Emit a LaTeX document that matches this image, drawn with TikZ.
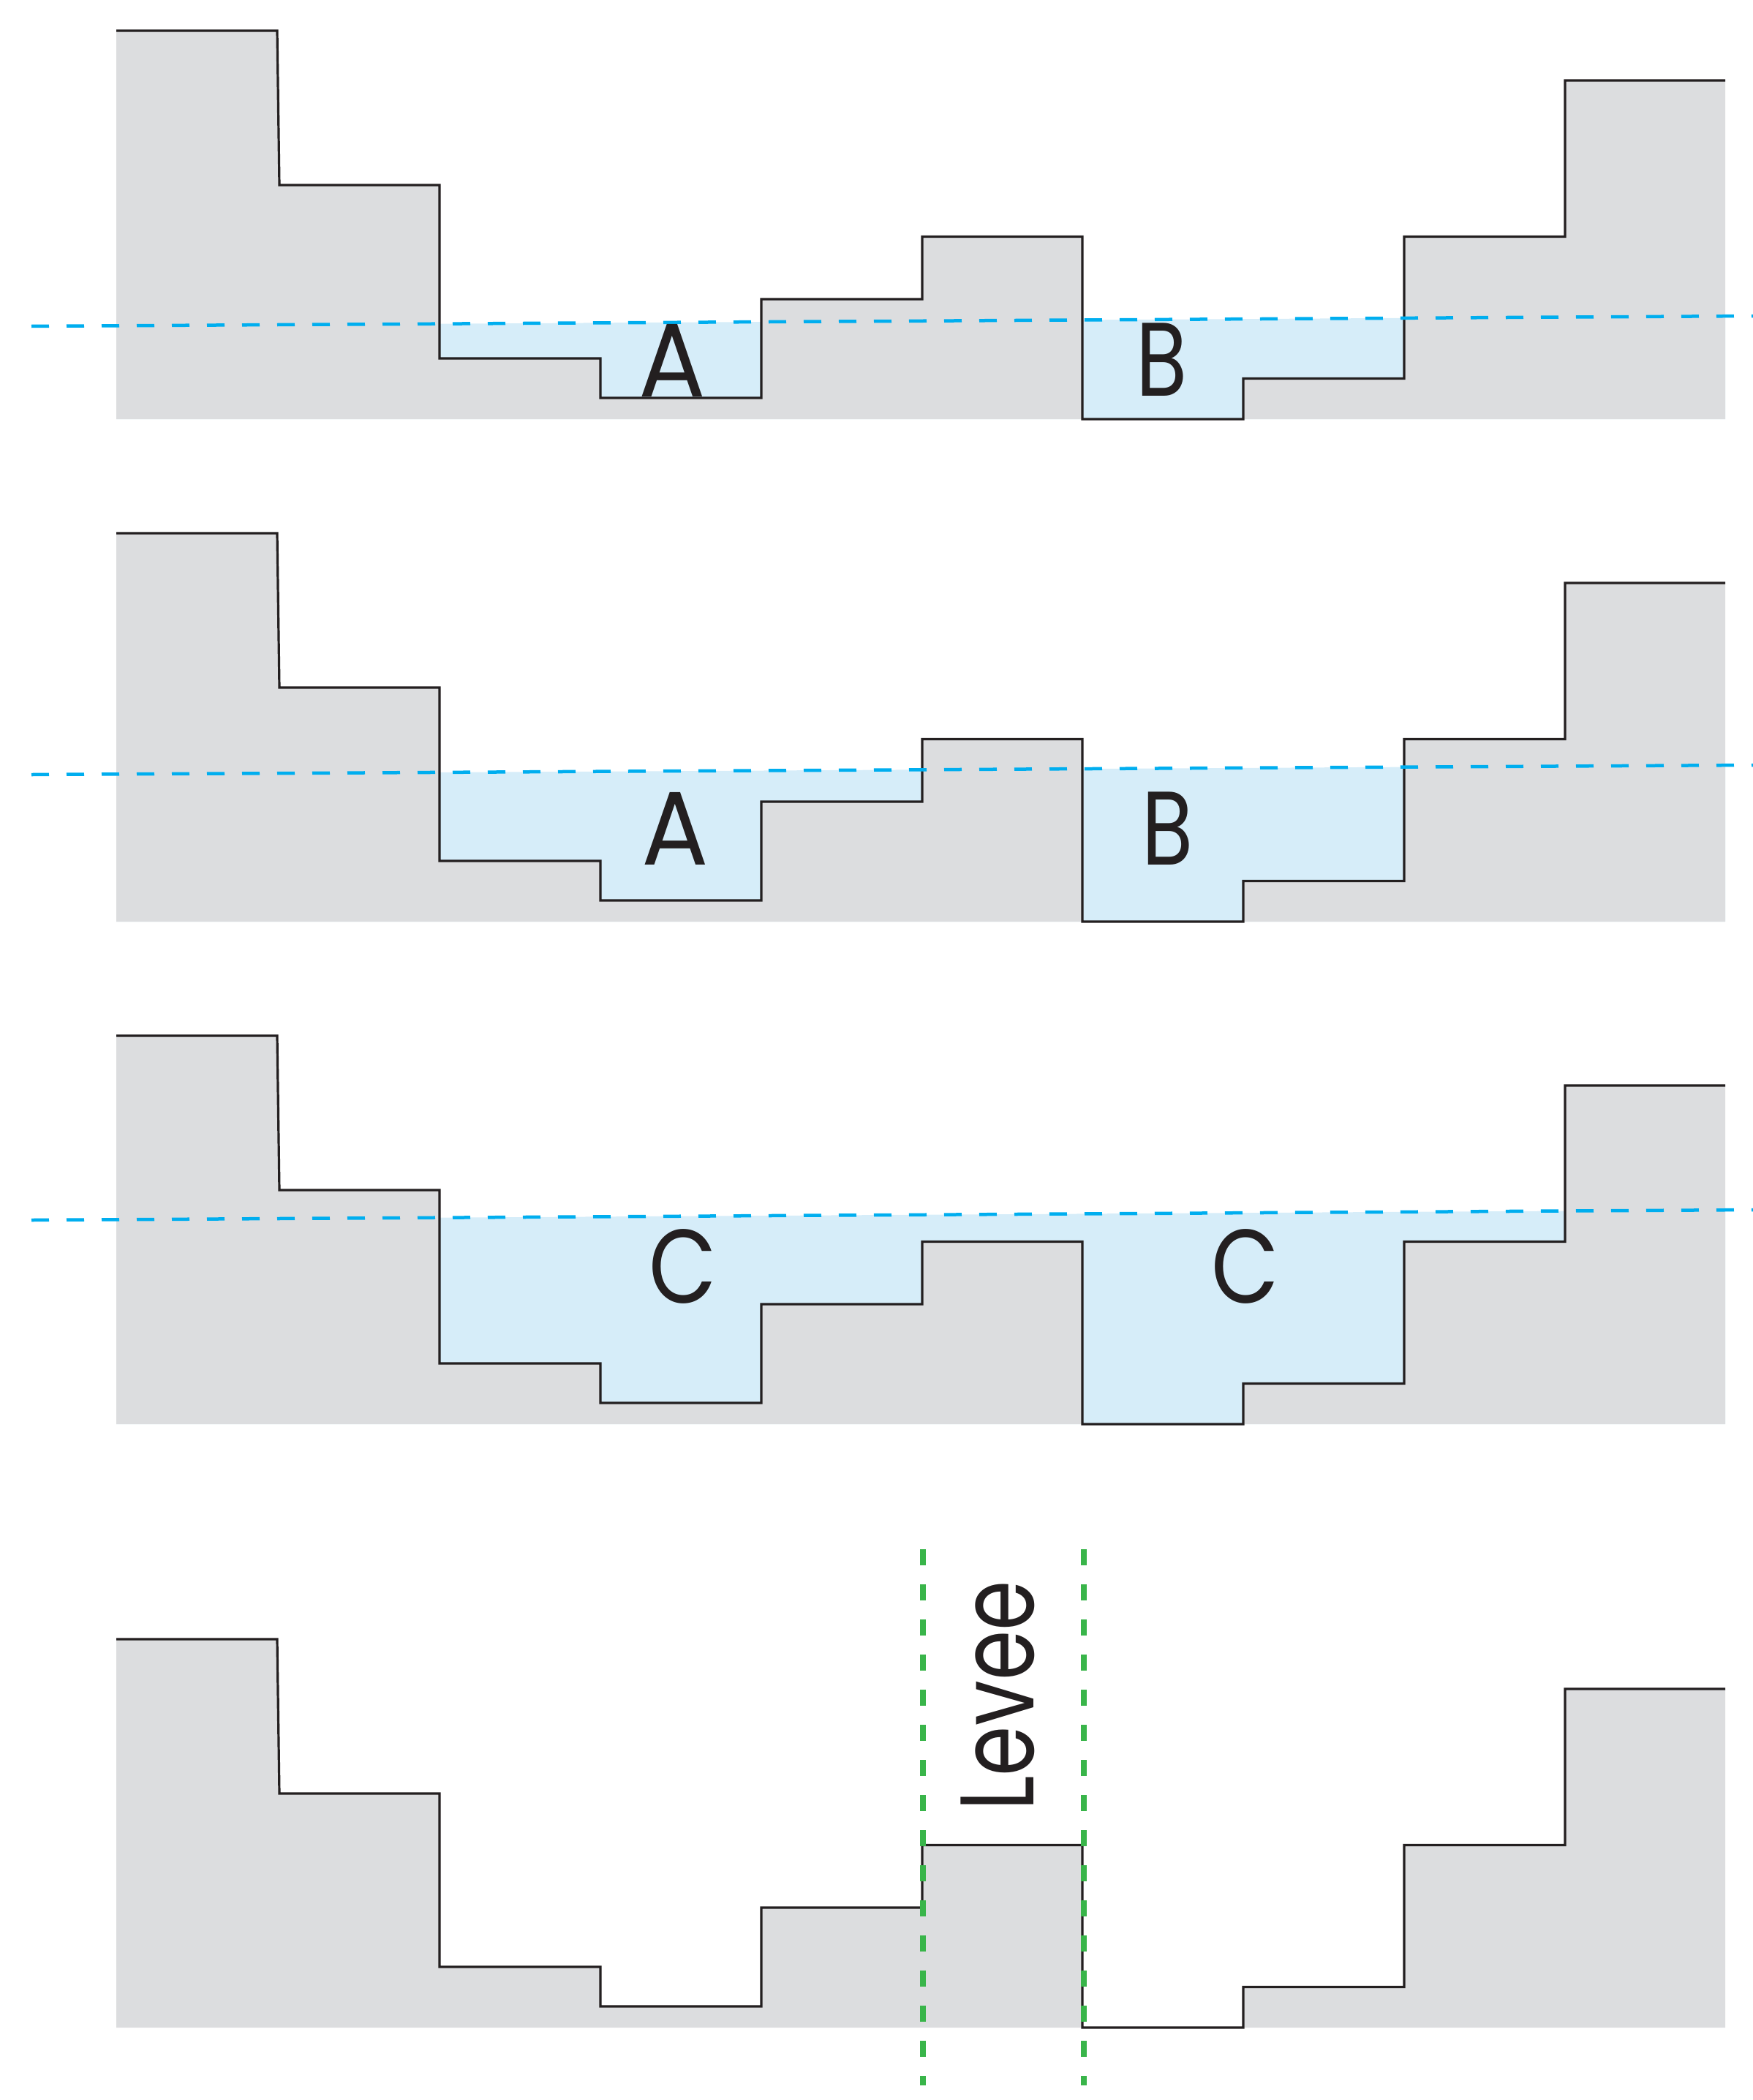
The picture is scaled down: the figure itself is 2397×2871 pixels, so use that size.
\documentclass[tikz,border=0pt]{standalone}
\usepackage{fontspec}
\setmainfont{Poppins}
\usepackage{graphicx}
\definecolor{groundgray}{HTML}{DCDDDF}
\definecolor{waterfill}{HTML}{D6EDF9}
\definecolor{waterline}{HTML}{00AEEF}
\definecolor{leveegreen}{HTML}{39B54A}
\definecolor{ink}{HTML}{231F20}
\newcommand\terrainline{(159,42) -- (379,42) -- (382,253) -- (601,253) -- (601,490) -- (821,490) -- (821,544) -- (1041,544) -- (1041,409) -- (1261,409) -- (1261,323.5) -- (1480,323.5) -- (1480,573) -- (1700,573) -- (1700,517.5) -- (1920,517.5) -- (1920,323.5) -- (2140,323.5) -- (2140,110) -- (2359,110)}
\begin{document}
\begin{tikzpicture}[x=1pt,y=-1pt,
  ground/.style={fill=groundgray},
  surface/.style={draw=ink, line width=3.2pt, line join=miter},
  waterbody/.style={fill=waterfill},
  waterlevel/.style={draw=waterline, line width=4.5pt, dash pattern=on 24pt off 24pt},
  leveeline/.style={draw=leveegreen, line width=7.5pt, dash pattern=on 22pt off 26pt},
  lbl/.style={inner sep=0pt, anchor=base, text=ink, font=\fontsize{143}{143}\selectfont}]
\useasboundingbox (0,0) rectangle (2397,2871);

% Panel 1
\begin{scope}
  \fill[waterbody] (159,445.3) -- (2359,432.2) -- (2359,573) -- (159,573) -- cycle;
  \fill[ground] \terrainline -- (2359,573) -- (159,573) -- cycle;
  \draw[surface] \terrainline;
  \coordinate (w1l) at (43,446);
  \coordinate (w1r) at (2397,432);
  \draw[waterlevel] (w1l) -- (w1r);
\end{scope}
\node[lbl] (a1) at (919,542) {\scalebox{0.95}[1]{A}};
\node[lbl] (b1) at (1589,541.5) {\scalebox{0.8}[1]{B}};

% Panel 2
\begin{scope}[yshift=-687pt]
  \fill[waterbody] (159,371.4) -- (2359,359.2) -- (2359,573) -- (159,573) -- cycle;
  \fill[ground] \terrainline -- (2359,573) -- (159,573) -- cycle;
  \draw[surface] \terrainline;
\end{scope}
\coordinate (w2l) at (43,1059);
\coordinate (w2r) at (2397,1046);
\draw[waterlevel] (w2l) -- (w2r);
\node[lbl] (a2) at (923,1182) {\scalebox{0.95}[1]{A}};
\node[lbl] (b2) at (1597,1182) {\scalebox{0.8}[1]{B}};

% Panel 3
\begin{scope}[yshift=-1374pt]
  \fill[waterbody] (159,293.3) -- (2359,280.2) -- (2359,573) -- (159,573) -- cycle;
  \fill[ground] \terrainline -- (2359,573) -- (159,573) -- cycle;
  \draw[surface] \terrainline;
\end{scope}
\coordinate (w3l) at (43,1668);
\coordinate (w3r) at (2397,1654);
\draw[waterlevel] (w3l) -- (w3r);
\node[lbl] (c1) at (934,1781) {\scalebox{0.84}[1]{C}};
\node[lbl] (c2) at (1703,1781) {\scalebox{0.84}[1]{C}};

% Panel 4
\begin{scope}[yshift=-2199pt]
  \fill[ground] \terrainline -- (2359,573) -- (159,573) -- cycle;
  \draw[surface] \terrainline;
\end{scope}
\coordinate (g1t) at (1262,2118);
\coordinate (g1b) at (1262,2851);
\coordinate (g2t) at (1482,2118);
\coordinate (g2b) at (1482,2851);
\draw[leveeline] (g1t) -- (g1b);
\draw[leveeline] (g2t) -- (g2b);
\node[lbl, rotate=90] (levee) at (1413,2318.5) {\scalebox{0.77}[1]{Levee}};
\end{tikzpicture}
\end{document}
